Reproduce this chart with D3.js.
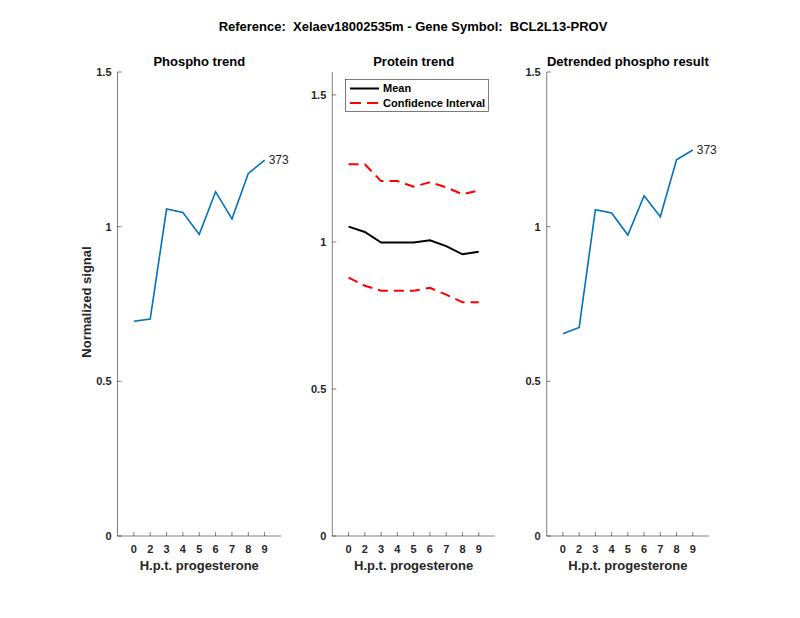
<!DOCTYPE html>
<html>
<head>
<meta charset="utf-8">
<script src="https://cdn.jsdelivr.net/npm/d3@7"></script>
<style>
  body { margin: 0; background: #fff; }
  svg { font-family: "Liberation Sans", Arial, sans-serif; }
  .pre { white-space: pre; }
</style>
</head>
<body>
<svg id="chart" width="800" height="618"></svg>
<script>
// time points (h.p.t. progesterone)
const timeLabels = ['0', '2', '3', '4', '5', '6', '7', '8', '9'];

const phosphoValues = [0.694, 0.701, 1.057, 1.046, 0.975, 1.113, 1.025, 1.172, 1.215];
const proteinMean = [1.052, 1.034, 0.998, 0.998, 0.998, 1.006, 0.986, 0.958, 0.967];
const proteinUpper = [1.264, 1.264, 1.207, 1.207, 1.188, 1.203, 1.186, 1.162, 1.175];
const proteinLower = [0.879, 0.851, 0.834, 0.834, 0.834, 0.844, 0.821, 0.795, 0.795];
const detrendedValues = [0.654, 0.674, 1.055, 1.044, 0.973, 1.100, 1.032, 1.216, 1.248];

const yTicks = [0, 0.5, 1, 1.5];
const peptideId = '373';

const svg = d3.select('#chart');
const axisColor = '#262626';
const plotTop = 72, plotBottom = 536;

svg.append('text')
    .attr('class', 'pre')
    .attr('x', 413).attr('y', 31)
    .attr('text-anchor', 'middle')
    .attr('font-size', 13).attr('font-weight', 'bold')
    .attr('fill', '#000')
    .text('Reference:  Xelaev18002535m - Gene Symbol:  BCL2L13-PROV');

function drawPanel(left, right, yMax, title) {
    const x = d3.scaleLinear().domain([0, 10]).range([left, right]);
    const y = d3.scaleLinear().domain([0, yMax]).range([plotBottom, plotTop]);
    const g = svg.append('g');

    // axis lines
    g.append('line').attr('x1', left).attr('x2', left).attr('y1', plotTop).attr('y2', plotBottom)
        .attr('stroke', axisColor).attr('stroke-width', 0.6);
    g.append('line').attr('x1', left).attr('x2', right).attr('y1', plotBottom).attr('y2', plotBottom)
        .attr('stroke', axisColor).attr('stroke-width', 0.6);

    // y ticks (inside)
    yTicks.forEach(v => {
        g.append('line').attr('x1', left).attr('x2', left + 4).attr('y1', y(v)).attr('y2', y(v))
            .attr('stroke', axisColor).attr('stroke-width', 0.6);
        g.append('text')
            .attr('x', left - 6).attr('y', y(v)).attr('dy', '0.35em')
            .attr('text-anchor', 'end')
            .attr('font-size', 11).attr('font-weight', 'bold').attr('fill', axisColor)
            .text(d3.format('~g')(v));
    });

    // x ticks (inside)
    timeLabels.forEach((t, i) => {
        g.append('line').attr('x1', x(i + 1)).attr('x2', x(i + 1)).attr('y1', plotBottom).attr('y2', plotBottom - 4)
            .attr('stroke', axisColor).attr('stroke-width', 0.6);
        g.append('text')
            .attr('x', x(i + 1)).attr('y', 553)
            .attr('text-anchor', 'middle')
            .attr('font-size', 11).attr('font-weight', 'bold').attr('fill', axisColor)
            .text(t);
    });

    g.append('text')
        .attr('x', (left + right) / 2).attr('y', 570)
        .attr('text-anchor', 'middle')
        .attr('font-size', 13).attr('font-weight', 'bold').attr('fill', axisColor)
        .text('H.p.t. progesterone');

    g.append('text')
        .attr('x', (left + right) / 2).attr('y', 66)
        .attr('text-anchor', 'middle')
        .attr('font-size', 13).attr('font-weight', 'bold').attr('fill', '#000')
        .text(title);

    return { g, x, y };
}

function drawLine(p, values, color, width, dash) {
    const line = d3.line().x((d, i) => p.x(i + 1)).y(d => p.y(d));
    p.g.append('path').datum(values)
        .attr('d', line)
        .attr('fill', 'none')
        .attr('stroke', color)
        .attr('stroke-width', width)
        .attr('stroke-dasharray', dash || null);
}

function labelEnd(p, values) {
    const last = values.length - 1;
    p.g.append('text')
        .attr('x', p.x(last + 1) + 4).attr('y', p.y(values[last])).attr('dy', '0.35em')
        .attr('font-size', 12).attr('fill', axisColor)
        .text(peptideId);
}

// panel 1: phospho trend
const p1 = drawPanel(117.5, 281, 1.5, 'Phospho trend');
drawLine(p1, phosphoValues, '#0072BD', 1.6);
labelEnd(p1, phosphoValues);
svg.append('text')
    .attr('transform', 'translate(91,302) rotate(-90)')
    .attr('text-anchor', 'middle')
    .attr('font-size', 13).attr('font-weight', 'bold').attr('fill', axisColor)
    .text('Normalized signal');

// panel 2: protein trend
const p2 = drawPanel(332.3, 495, 1.578, 'Protein trend');
drawLine(p2, proteinUpper, '#FF0000', 2, '10,6');
drawLine(p2, proteinLower, '#FF0000', 2, '10,6');
drawLine(p2, proteinMean, '#000000', 2);

const legend = svg.append('g');
legend.append('rect')
    .attr('x', 345.5).attr('y', 79.5).attr('width', 143).attr('height', 32)
    .attr('fill', '#fff').attr('stroke', axisColor).attr('stroke-width', 0.6);
legend.append('line').attr('x1', 350).attr('x2', 379).attr('y1', 88.5).attr('y2', 88.5)
    .attr('stroke', '#000').attr('stroke-width', 2);
legend.append('line').attr('x1', 350).attr('x2', 379).attr('y1', 103).attr('y2', 103)
    .attr('stroke', '#FF0000').attr('stroke-width', 2).attr('stroke-dasharray', '11,6');
legend.append('text').attr('x', 383).attr('y', 88.5).attr('dy', '0.35em')
    .attr('font-size', 11).attr('font-weight', 'bold').attr('fill', '#000').text('Mean');
legend.append('text').attr('x', 383).attr('y', 103).attr('dy', '0.35em')
    .attr('font-size', 11).attr('font-weight', 'bold').attr('fill', '#000').text('Confidence Interval');

// panel 3: detrended phospho
const p3 = drawPanel(546.7, 709, 1.5, 'Detrended phospho result');
drawLine(p3, detrendedValues, '#0072BD', 1.6);
labelEnd(p3, detrendedValues);
</script>
</body>
</html>
